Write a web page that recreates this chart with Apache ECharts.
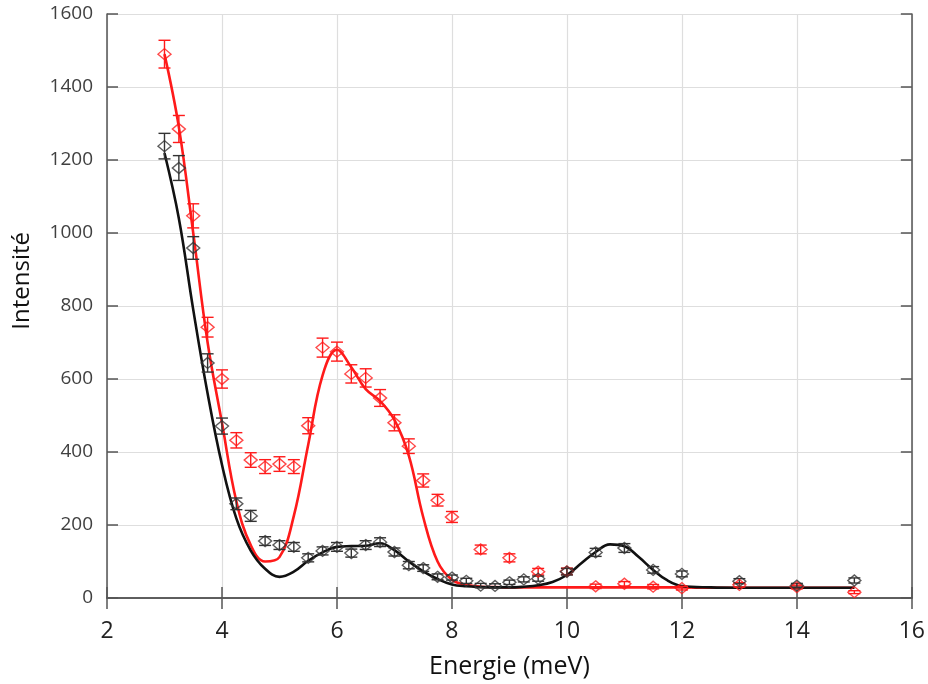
<!DOCTYPE html>
<html>
<head>
<meta charset="utf-8">
<script src="https://cdn.jsdelivr.net/npm/echarts@6/dist/echarts.min.js"></script>
<style>
html,body{margin:0;padding:0;background:#fff;}
#chart{width:928px;height:684px;}
</style>
</head>
<body>
<div id="chart"></div>
<script>
// Measured points (red series)
const redX = [3,3.25,3.5,3.75,4,4.25,4.5,4.75,5,5.25,5.5,5.75,6,6.25,6.5,6.75,7,7.25,7.5,7.75,8,8.5,9,9.5,10,10.5,11,11.5,12,13,14,15];
const redY = [1490,1285,1047,742,600,432,378,360,367,360,472,686,675,614,603,548,480,416,322,268,222,133,110,72,73,32,39,31,27,36,30,16];
const redErr = [38,37,33,27,25,21,20,19,20,19,22,26,26,25,25,23,22,20,18,16,15,12,11,9,9,6,6,6,5,6,5,4];

// Measured points (black series)
const blackX = [3,3.25,3.5,3.75,4,4.25,4.5,4.75,5,5.25,5.5,5.75,6,6.25,6.5,6.75,7,7.25,7.5,7.75,8,8.25,8.5,8.75,9,9.25,9.5,10,10.5,11,11.5,12,13,14,15];
const blackY = [1238,1178,959,644,471,258,225,156,145,140,110,129,140,123,145,153,126,90,82,58,56,47,34,33,43,51,53,72,125,137,77,66,46,34,48];
const blackErr = [35,34,31,25,22,16,15,12,12,12,11,11,12,11,12,12,11,10,9,8,7,7,6,6,6,7,7,9,11,12,9,8,7,6,7];

// Fitted curves
const fitX = [3,3.25,3.5,3.75,4,4.25,4.5,4.75,5,5.25,5.5,5.75,6,6.25,6.5,6.75,7,7.25,7.5,7.75,8,8.25,8.5,8.75,9,9.25,9.5,9.75,10,10.25,10.5,10.75,11,11.25,11.5,11.75,12,12.5,13,13.5,14,14.5,15];
const redFit = [1490,1290,1000,700,480,265,145,100,112,225,420,610,680,632,572,540,488,390,222,100,50,36,31,30,29,29,29,29,29,29,29,29,29,29,29,29,29,28,28,28,28,28,28];
const blackFit = [1219,1040,790,560,365,218,130,80,58,72,102,125,140,142,143,150,131,100,73,52,37,32,30,29,29,31,35,44,63,95,126,147,142,112,77,48,33,29,28,28,28,28,28];

// Axis ticks
const xMin = 2, xMax = 16, xStep = 2;
const yMin = 0, yMax = 1600, yStep = 200;
const yTitle = 'Intensité';
const xTitle = 'Energie (meV)';

const RED = '#ff1a1a';
const BLACK = '#111111';

function pts(xs, ys) { return xs.map((x, i) => [x, ys[i]]); }
function errRows(xs, ys, es) { return xs.map((x, i) => [x, ys[i], es[i]]); }

function errRender(color) {
  return function (params, api) {
    const x = api.value(0), y = api.value(1), e = api.value(2);
    const lo = api.coord([x, y - e]);
    const hi = api.coord([x, y + e]);
    const hw = 6;
    const st = { stroke: color, lineWidth: 1.4 };
    return {
      type: 'group',
      children: [
        { type: 'line', shape: { x1: lo[0], y1: lo[1], x2: hi[0], y2: hi[1] }, style: st },
        { type: 'line', shape: { x1: lo[0] - hw, y1: lo[1], x2: lo[0] + hw, y2: lo[1] }, style: st },
        { type: 'line', shape: { x1: hi[0] - hw, y1: hi[1], x2: hi[0] + hw, y2: hi[1] }, style: st }
      ]
    };
  };
}

const chart = echarts.init(document.getElementById('chart'));
const frame = { show: true, lineStyle: { color: '#555', width: 1.5 } };
const tickIn = { show: true, inside: true, length: 11, lineStyle: { color: '#555', width: 1.5 } };

chart.setOption({
  animation: false,
  backgroundColor: '#fff',
  grid: { left: 107, right: 16, top: 14, bottom: 86 },
  graphic: [
    {
      type: 'text', left: 10, top: 232, rotation: Math.PI / 2,
      style: { text: yTitle, fill: '#111', font: '24px "Open Sans", sans-serif' }
    }
  ],
  xAxis: [
    {
      type: 'value', min: xMin, max: xMax, interval: xStep, position: 'bottom',
      axisLine: frame, axisTick: tickIn,
      axisLabel: { color: '#222', fontSize: 23, fontFamily: 'Open Sans, sans-serif', margin: 22, formatter: v => String(v) },
      splitLine: { show: true, lineStyle: { color: '#dedede', width: 1.2 } },
      name: xTitle, nameLocation: 'middle', nameGap: 56,
      nameTextStyle: { color: '#111', fontSize: 25, fontFamily: 'Open Sans, sans-serif' }
    },
    {
      type: 'value', min: xMin, max: xMax, interval: xStep, position: 'top',
      axisLine: frame, axisTick: tickIn, axisLabel: { show: false }, splitLine: { show: false }
    }
  ],
  yAxis: [
    {
      type: 'value', min: yMin, max: yMax, interval: yStep, position: 'left',
      axisLine: frame, axisTick: tickIn,
      axisLabel: { color: '#404040', fontSize: 19, fontFamily: 'Open Sans, sans-serif', margin: 14, formatter: v => String(v) },
      splitLine: { show: true, lineStyle: { color: '#dedede', width: 1.2 } }
    },
    {
      type: 'value', min: yMin, max: yMax, interval: yStep, position: 'right',
      axisLine: frame, axisTick: tickIn, axisLabel: { show: false }, splitLine: { show: false }
    }
  ],
  series: [
    {
      name: 'fit-red', type: 'line', data: pts(fitX, redFit), smooth: 0.4, showSymbol: false,
      lineStyle: { color: RED, width: 2.6 }, z: 3
    },
    {
      name: 'fit-black', type: 'line', data: pts(fitX, blackFit), smooth: 0.4, showSymbol: false,
      lineStyle: { color: BLACK, width: 2.6 }, z: 4
    },
    {
      name: 'err-red', type: 'custom', renderItem: errRender(RED), data: errRows(redX, redY, redErr),
      encode: { x: 0, y: 1 }, z: 5
    },
    {
      name: 'err-black', type: 'custom', renderItem: errRender('#333'), data: errRows(blackX, blackY, blackErr),
      encode: { x: 0, y: 1 }, z: 5
    },
    {
      name: 'pts-red', type: 'scatter', data: pts(redX, redY), symbol: 'diamond', symbolSize: [13, 11],
      itemStyle: { color: 'rgba(0,0,0,0)', borderColor: RED, borderWidth: 1.4 }, z: 6
    },
    {
      name: 'pts-black', type: 'scatter', data: pts(blackX, blackY), symbol: 'diamond', symbolSize: [13, 11],
      itemStyle: { color: 'rgba(0,0,0,0)', borderColor: '#333', borderWidth: 1.4 }, z: 6
    }
  ]
});
</script>
</body>
</html>
